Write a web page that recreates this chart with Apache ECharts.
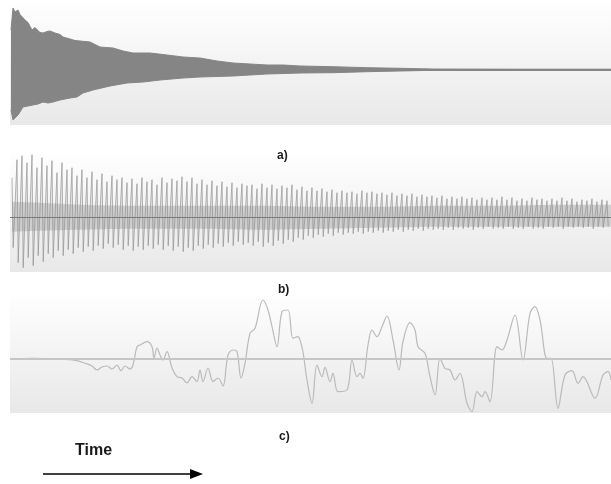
<!DOCTYPE html>
<html>
<head>
<meta charset="utf-8">
<script src="https://cdn.jsdelivr.net/npm/echarts@6/dist/echarts.min.js"></script>
<style>
  html, body { margin: 0; padding: 0; background: #fff; }
  #chart { width: 611px; height: 484px; }
</style>
</head>
<body>
<div id="chart"></div>
<script>
// ---- a) 衰减包络 (time, amplitude) ----
const aUpperX = [11, 13, 15, 18, 20, 22, 25, 28, 32, 35, 37, 40, 43, 47, 50, 55, 60, 63, 70, 75, 80, 90, 100, 113, 123, 133, 150, 167, 183, 200, 217, 233, 250, 267, 283, 300, 333, 367, 400, 433, 470, 520, 611]
const aUpperY = [39.5, 61.5, 57.5, 59.5, 55, 54.5, 49.5, 47, 39.5, 42, 41.5, 37, 36.5, 38, 38.5, 36.5, 35, 32.5, 30.5, 29, 28.5, 27.5, 22.5, 21.5, 18.5, 16.5, 16.5, 14.5, 12.5, 11.5, 8.5, 6.5, 5.5, 4.5, 4.5, 3.5, 2.8, 1.8, 1.2, 0.5, 0.4, 0.3, 0.3]
const aLowerX = [11, 13, 15, 18, 23, 28, 33, 38, 43, 48, 53, 60, 65, 70, 77, 83, 93, 110, 127, 143, 160, 183, 200, 233, 267, 300, 333, 367, 400, 433, 470, 520, 611]
const aLowerY = [-40.5, -50.5, -48.5, -45.5, -37.5, -36.5, -35.5, -34.5, -32.5, -33.5, -32.5, -30.5, -29.5, -28.5, -27.5, -23.5, -20.5, -16.5, -13.5, -12.5, -10.5, -8.5, -7.5, -6.5, -4.5, -3.5, -3.2, -2.2, -1.5, -0.8, -0.5, -0.4, -0.3]

// ---- b) 振荡波形: 每个周期的峰值/谷值 ----
const bStart = 12
const bStep = 5
const bPeaks = [
  40, 58, 62, 55, 63, 50, 60, 52, 57, 45, 55, 48,
  50, 42, 48, 40, 46, 38, 44, 36, 42, 38, 40, 35,
  39, 34, 40, 36, 38, 33, 40, 35, 39, 37, 41, 36,
  40, 34, 38, 33, 37, 32, 36, 31, 35, 30, 34, 32,
  33, 29, 34, 30, 33, 29, 32, 30, 33, 28, 31, 27,
  30, 27, 29, 26, 28, 25, 27, 25, 26, 24, 27, 25,
  26, 24, 25, 23, 25, 22, 24, 22, 24, 21, 23, 21,
  22, 20, 22, 19, 21, 19, 21, 19, 20, 18, 20, 18,
  20, 18, 21, 18, 20, 17, 19, 17, 20, 18, 19, 17,
  19, 17, 20, 17, 19, 16, 18, 17, 19, 16, 18, 17
]
const bTroughs = [
  -30, -45, -50, -40, -48, -38, -44, -36, -40, -33, -38, -32,
  -36, -30, -34, -29, -33, -28, -31, -26, -30, -27, -32, -28,
  -33, -29, -32, -28, -31, -27, -32, -28, -33, -29, -34, -30,
  -33, -28, -31, -27, -30, -26, -29, -25, -28, -24, -27, -25,
  -28, -24, -29, -25, -28, -23, -26, -22, -24, -20, -22, -18,
  -20, -17, -19, -16, -18, -15, -17, -15, -16, -14, -16, -14,
  -15, -13, -15, -13, -14, -12, -14, -12, -13, -11, -13, -11,
  -12, -11, -12, -10, -12, -10, -11, -10, -12, -10, -11, -9,
  -11, -10, -11, -9, -11, -10, -11, -9, -11, -10, -11, -9,
  -10, -9, -11, -9, -10, -9, -10, -9, -11, -9, -10, -9
]
// 中心密集带 (上/下边界)
const bCoreX = [12, 40, 80, 140, 200, 260, 320, 380, 440, 500, 560, 611]
const bCoreUp = [16, 15, 13, 12, 12, 12, 11, 11, 12, 12, 13, 13]
const bCoreLow = [-14, -13, -12, -11, -11, -12, -11, -10, -9, -9, -9, -9]

// ---- c) 低频曲线 (time, value) ----
const cX = [12, 33, 50, 63, 77, 85, 92, 97, 102, 107, 112, 117, 121, 125, 130, 133, 137, 140, 147, 152, 154, 157, 160, 163, 167, 172, 177, 182, 187, 192, 197, 200, 203, 208, 213, 218, 223, 228, 233, 237, 241, 245, 250, 255, 263, 268, 272, 277, 282, 288, 293, 298, 300, 303, 307, 312, 317, 322, 325, 330, 333, 338, 347, 352, 357, 360, 363, 368, 372, 377, 382, 387, 393, 399, 403, 410, 415, 418, 425, 430, 435, 440, 445, 450, 455, 460, 467, 472, 477, 482, 485, 490, 497, 502, 507, 515, 523, 530, 535, 540, 547, 551, 558, 565, 572, 578, 583, 595, 603, 608, 611]
const cY = [0, 0.7, 0.3, -0.3, -1.7, -4.3, -7, -11, -8, -7, -10, -6, -11.7, -7, -10, -6, 12.3, 14, 17.3, 12.3, 1, 11, 4, -1, 7.3, -9, -17.7, -19, -24, -17.7, -22.7, -11, -22.7, -9, -22.7, -19, -27, 4, 9, 7.3, -19, -4.3, 25.7, 30.7, 59, 49, 32.3, 12.3, 47.3, 49, 20.7, 22.3, 19, 7, -21, -44.3, -6, -17.7, -8.3, -22.7, -14.3, -32.7, -31, -1, -17.7, -14.3, -19.3, 14, 29, 22.3, 32.3, 43, 19, -11, 17.3, 36.3, 29, 12.3, 5.7, -17.7, -36, 0.7, -9.3, -11, -21, -14.3, -44.3, -52.7, -32.7, -37.7, -32.7, -42.7, 12.3, 9, 19, 44, -1, 45.7, 52.3, 39, 0.7, 0.7, -49.3, -16, -11.7, -24.3, -17.7, -39.3, -16, -12.7, -21]

// ---- 组装数据 ----
const aUpper = aUpperX.map((x, i) => [x, aUpperY[i]])
const aLower = aLowerX.map((x, i) => [x, aLowerY[i]])
// 每个周期: 尖峰向上 -> 尖峰向下, 形成竖直的细线
const bWave = []
bPeaks.forEach((p, i) => {
  const x = bStart + i * bStep
  bWave.push([x, p])
  bWave.push([x + 1.2, bTroughs[i]])
})
const bCoreTop = bCoreX.map((x, i) => [x, bCoreUp[i]])
const bCoreBottom = bCoreX.map((x, i) => [x, bCoreLow[i]])
const cLine = cX.map((x, i) => [x, cY[i]])

// ---- 面板位置 ----
const panels = [
  { top: 0, height: 125, max: 69.5 },
  { top: 150, height: 122, max: 67.7 },
  { top: 292, height: 121, max: 67 }
]

const panelBg = (p) => ({
  type: 'rect',
  left: 10,
  top: p.top,
  shape: { width: 601, height: p.height },
  style: {
    fill: new echarts.graphic.LinearGradient(0, 0, 0, 1, [
      { offset: 0, color: '#ffffff' },
      { offset: 1, color: '#e8e8e8' }
    ])
  },
  z: -10
})

const label = (text, x, y, size, weight) => ({
  type: 'text',
  left: x,
  top: y,
  style: {
    text: text,
    fill: '#1a1a1a',
    font: weight + ' ' + size + 'px "Liberation Sans", Arial, sans-serif'
  },
  z: 10
})

const zeroLine = (color, width, x0) => ({
  silent: true, symbol: 'none', label: { show: false },
  lineStyle: { color: color, width: width, type: 'solid' },
  data: [[{ coord: [x0, 0] }, { coord: [611, 0] }]]
})

const chart = echarts.init(document.getElementById('chart'))

chart.setOption({
  animation: false,
  grid: panels.map(p => ({ left: 0, width: 611, top: p.top, height: p.height })),
  xAxis: panels.map((p, i) => ({
    type: 'value', gridIndex: i, min: 0, max: 611, show: false
  })),
  yAxis: panels.map((p, i) => ({
    type: 'value', gridIndex: i, min: p.max - p.height, max: p.max, show: false
  })),
  graphic: [
    ...panels.map(panelBg),
    label('a)', 277, 150, 12, 'bold'),
    label('b)', 278, 284, 12, 'bold'),
    label('c)', 279, 431, 12, 'bold'),
    label('Time', 75, 443, 16, 'bold'),
    {
      type: 'line',
      shape: { x1: 43, y1: 474, x2: 196, y2: 474 },
      style: { stroke: '#000', lineWidth: 1.5 },
      z: 10
    },
    {
      type: 'polygon',
      shape: { points: [[190, 469], [203, 474], [190, 479]] },
      style: { fill: '#000' },
      z: 10
    }
  ],
  series: [
    {
      type: 'line', xAxisIndex: 0, yAxisIndex: 0,
      data: aUpper, symbol: 'none',
      lineStyle: { color: '#858585', width: 1 },
      areaStyle: { color: '#858585', opacity: 1 }
    },
    {
      type: 'line', xAxisIndex: 0, yAxisIndex: 0,
      data: aLower, symbol: 'none',
      lineStyle: { color: '#858585', width: 1 },
      areaStyle: { color: '#858585', opacity: 1 },
      markLine: zeroLine('#858585', 2, 11),
      z: 3
    },
    {
      type: 'line', xAxisIndex: 1, yAxisIndex: 1,
      data: bCoreTop, symbol: 'none', smooth: 0.3,
      lineStyle: { width: 0 },
      areaStyle: { color: '#9c9c9c', opacity: 0.4 }
    },
    {
      type: 'line', xAxisIndex: 1, yAxisIndex: 1,
      data: bCoreBottom, symbol: 'none', smooth: 0.3,
      lineStyle: { width: 0 },
      areaStyle: { color: '#9c9c9c', opacity: 0.4 }
    },
    {
      type: 'line', xAxisIndex: 1, yAxisIndex: 1,
      data: bWave, symbol: 'none',
      lineStyle: { color: '#8c8c8c', width: 0.8, opacity: 0.8 },
      areaStyle: { color: '#a8a8a8', opacity: 0.18 },
      markLine: zeroLine('#7a7a7a', 1.2, 10),
      z: 3
    },
    {
      type: 'line', xAxisIndex: 2, yAxisIndex: 2,
      data: cLine, symbol: 'none', smooth: 0.35,
      lineStyle: { color: '#bababa', width: 1.2 },
      markLine: zeroLine('#c6c6c6', 2, 10),
      z: 3
    }
  ]
})
</script>
</body>
</html>
